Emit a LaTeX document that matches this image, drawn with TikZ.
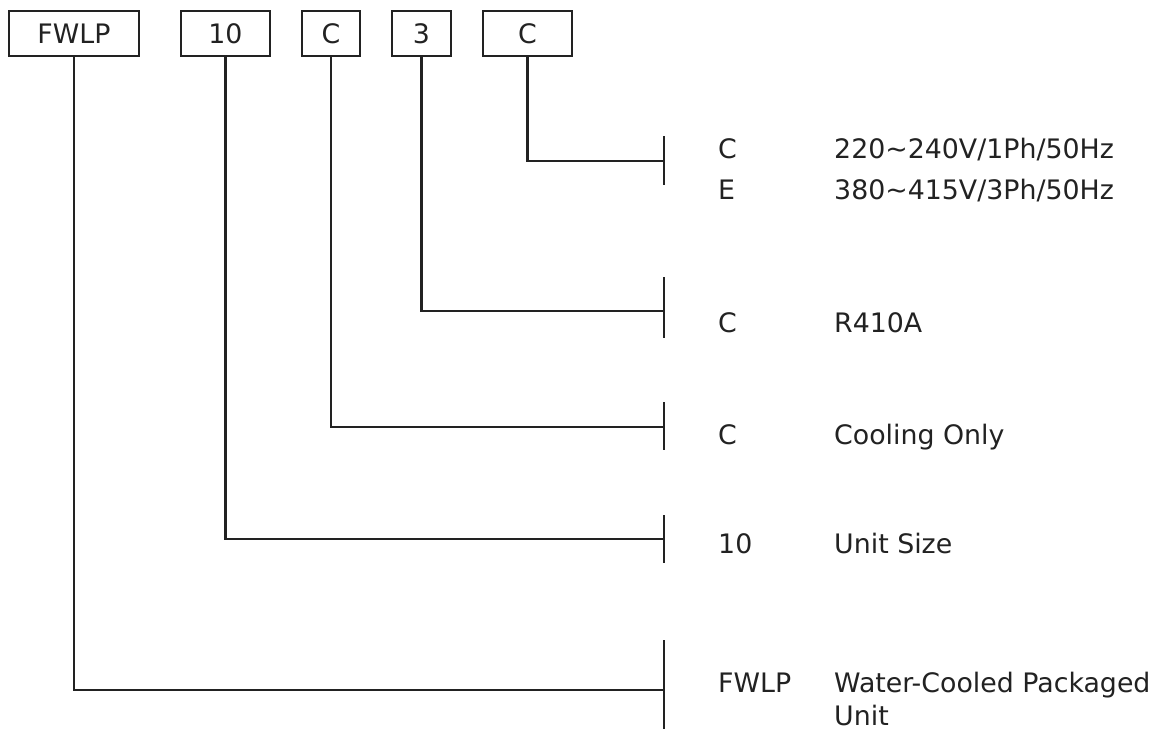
\documentclass[tikz,border=0pt]{standalone}
\usepackage{fontspec}
\setmainfont{DejaVu Sans}
\definecolor{ink}{HTML}{222222}
\begin{document}
\begin{tikzpicture}[x=1pt,y=-1pt,
  codebox/.style={draw=ink,line width=2.8pt,minimum height=45pt,inner sep=0pt,
    text height=19.5pt,text depth=0pt,text=ink,font=\fontsize{26.8}{32}\selectfont},
  lbl/.style={anchor=base west,inner sep=0pt,text=ink,font=\fontsize{26.8}{32}\selectfont},
  conn/.style={draw=ink,line width=2.6pt},
  tickbar/.style={draw=ink,line width=2.4pt}]
\useasboundingbox (0,0) rectangle (1158,729);
% code boxes
\node[codebox,minimum width=130pt] (b1) at (74,33.5) {FWLP};
\node[codebox,minimum width=89pt] (b2) at (225.5,33.5) {10};
\node[codebox,minimum width=58pt] (b3) at (331,33.5) {C};
\node[codebox,minimum width=59pt] (b4) at (421.5,33.5) {3};
\node[codebox,minimum width=89pt] (b5) at (527.5,33.5) {C};
% tick bar coordinates
\coordinate (t5) at (664,161); \coordinate (t5a) at (664,136); \coordinate (t5b) at (664,185);
\coordinate (t4) at (664,311); \coordinate (t4a) at (664,277); \coordinate (t4b) at (664,338);
\coordinate (t3) at (664,427); \coordinate (t3a) at (664,402); \coordinate (t3b) at (664,450);
\coordinate (t2) at (664,539); \coordinate (t2a) at (664,515); \coordinate (t2b) at (664,563);
\coordinate (t1) at (664,690); \coordinate (t1a) at (664,640); \coordinate (t1b) at (664,729);
% connectors
\draw[conn] (b5.south) |- (t5);
\draw[conn] (b4.south) |- (t4);
\draw[conn] (b3.south) |- (t3);
\draw[conn] (b2.south) |- (t2);
\draw[conn] (b1.south) |- (t1);
\draw[tickbar] (t5a) -- (t5b);
\draw[tickbar] (t4a) -- (t4b);
\draw[tickbar] (t3a) -- (t3b);
\draw[tickbar] (t2a) -- (t2b);
\draw[tickbar] (t1a) -- (t1b);
% labels
\node[lbl] (c5a) at (718,158) {C};
\node[lbl] (d5a) at (834,158) {220\char"007E 240V/1Ph/50Hz};
\node[lbl] (c5b) at (718,199) {E};
\node[lbl] (d5b) at (834,199) {380\char"007E 415V/3Ph/50Hz};
\node[lbl] (c4) at (718,332) {C};
\node[lbl] (d4) at (834,332) {R410A};
\node[lbl] (c3) at (718,444) {C};
\node[lbl] (d3) at (834,444) {Cooling Only};
\node[lbl] (c2) at (718,553) {10};
\node[lbl] (d2) at (834,553) {Unit Size};
\node[lbl] (c1) at (718,692) {FWLP};
\node[lbl] (d1) at (834,692) {Water-Cooled Packaged};
\node[lbl] (d1b) at (834,725.5) {Unit};
\end{tikzpicture}
\end{document}
